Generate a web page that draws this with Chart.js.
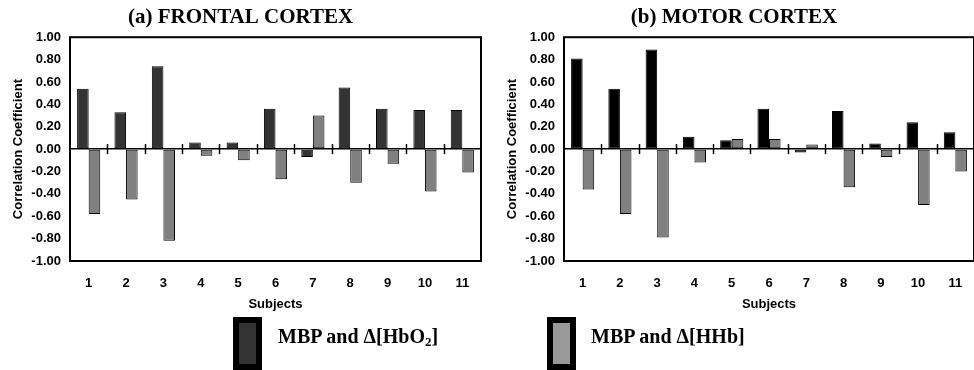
<!DOCTYPE html>
<html>
<head>
<meta charset="utf-8">
<script src="https://cdn.jsdelivr.net/npm/chart.js@4.4.1/dist/chart.umd.min.js"></script>
<style>
    html, body { margin: 0; padding: 0; background: #fff; }
    #wrap { position: relative; width: 974px; height: 370px; overflow: hidden; }
    .panel { position: absolute; top: 0; height: 320px; }
    #leftPanel { left: 0; width: 500px; }
    #rightPanel { left: 494px; width: 542px; }
    .key { position: absolute; top: 317px; width: 17px; height: 41px; border: 6px solid #000; }
    .keyText { position: absolute; top: 326px; font: bold 20px "Liberation Serif", "Times New Roman", serif; line-height: 20px; color: #000; white-space: nowrap; }
    .keyText sub { font-size: 13px; line-height: 0; vertical-align: -3px; }
</style>
</head>
<body>
<div id="wrap">
    <div class="panel" id="leftPanel"><canvas id="frontalChart"></canvas></div>
    <div class="panel" id="rightPanel"><canvas id="motorChart"></canvas></div>

    <div class="key" style="left:233px; background:#333333;"></div>
    <div class="keyText" style="left:278px;">MBP and &Delta;[HbO<sub>2</sub>]</div>
    <div class="key" style="left:547px; background:#999999;"></div>
    <div class="keyText" style="left:591px;">MBP and &Delta;[HHb]</div>
</div>

<script>
// Subjects on the x axis
const subjects = ['1', '2', '3', '4', '5', '6', '7', '8', '9', '10', '11'];

// (a) frontal cortex
const frontalHbO2 = [0.54, 0.33, 0.74, 0.06, 0.06, 0.36, -0.07, 0.55, 0.36, 0.35, 0.35];
const frontalHHb  = [-0.58, -0.45, -0.82, -0.06, -0.10, -0.27, 0.30, -0.30, -0.13, -0.38, -0.21];

// (b) motor cortex
const motorHbO2 = [0.81, 0.54, 0.89, 0.11, 0.08, 0.36, -0.03, 0.34, 0.05, 0.24, 0.15];
const motorHHb  = [-0.36, -0.58, -0.79, -0.12, 0.09, 0.09, 0.04, -0.34, -0.07, -0.50, -0.20];

// y axis range
const yMin = -1.0;
const yMax = 1.0;
const yStep = 0.2;

const sansBold = { family: "'Liberation Sans', Arial, sans-serif", size: 13, weight: 'bold' };

// Draws the box round the plot and the little ticks on the zero line
const frameAndTicks = {
    id: 'frameAndTicks',
    afterDatasetsDraw(chart) {
        const ctx = chart.ctx;
        const area = chart.chartArea;
        const x = chart.scales.x;
        const y = chart.scales.y;
        const y0 = y.getPixelForValue(0);
        ctx.save();
        ctx.strokeStyle = '#000';
        ctx.lineWidth = 1.5;
        for (let i = 1; i < subjects.length; i++) {
            const px = Math.round((x.getPixelForValue(i - 1) + x.getPixelForValue(i)) / 2) + 0.5;
            ctx.beginPath();
            ctx.moveTo(px, y0 - 5);
            ctx.lineTo(px, y0 + 5);
            ctx.stroke();
        }
        ctx.lineWidth = 2;
        ctx.strokeRect(area.left, area.top, area.width, area.height);
        ctx.restore();
    }
};

function makeChart(canvasId, title, hbo2, hhb, hbo2Color, padRight) {
    const canvas = document.getElementById(canvasId);
    return new Chart(canvas, {
        type: 'bar',
        data: {
            labels: subjects,
            datasets: [{
                label: 'MBP and \u0394[HbO2]',
                data: hbo2,
                backgroundColor: hbo2Color,
                borderColor: '#000',
                borderWidth: 1,
                borderSkipped: false,
                categoryPercentage: 0.62,
                barPercentage: 1.0
            }, {
                label: 'MBP and \u0394[HHb]',
                data: hhb,
                backgroundColor: '#808080',
                borderColor: '#000',
                borderWidth: 1,
                borderSkipped: false,
                categoryPercentage: 0.62,
                barPercentage: 1.0
            }]
        },
        options: {
            responsive: true,
            maintainAspectRatio: false,
            animation: false,
            layout: { padding: { left: 0, right: padRight, top: 0, bottom: 0 } },
            plugins: {
                legend: { display: false },
                tooltip: { enabled: false },
                title: {
                    display: true,
                    text: title,
                    color: '#000',
                    font: { family: "'Liberation Serif', 'Times New Roman', serif", size: 21, weight: 'bold' },
                    padding: { top: 5, bottom: 7 }
                }
            },
            scales: {
                x: {
                    afterFit: function(scale) { scale.height = 59; },
                    grid: { display: false, drawTicks: false },
                    border: { display: false },
                    ticks: { color: '#000', font: sansBold, padding: 15, maxRotation: 0, autoSkip: false },
                    title: {
                        display: true,
                        text: 'Subjects',
                        color: '#000',
                        font: sansBold,
                        padding: { top: 8, bottom: 8 }
                    }
                },
                y: {
                    min: yMin,
                    max: yMax,
                    afterFit: function(scale) { scale.width = 70; },
                    grid: {
                        drawTicks: false,
                        lineWidth: 1.5,
                        color: function(c) {
                            return c.tick && Math.abs(c.tick.value) < 1e-9 ? '#000' : 'rgba(0,0,0,0)';
                        }
                    },
                    border: { display: false },
                    ticks: {
                        stepSize: yStep,
                        color: '#000',
                        font: sansBold,
                        padding: 9,
                        callback: function(value) {
                            return Number(value).toFixed(2);
                        }
                    },
                    title: {
                        display: true,
                        text: 'Correlation Coefficient',
                        color: '#000',
                        font: sansBold,
                        padding: { top: 11, bottom: 0 }
                    }
                }
            }
        },
        plugins: [frameAndTicks]
    });
}

document.addEventListener('DOMContentLoaded', function() {
    makeChart('frontalChart', '(a) FRONTAL CORTEX', frontalHbO2, frontalHHb, '#333333', 19);
    makeChart('motorChart', '(b) MOTOR CORTEX', motorHbO2, motorHHb, '#000000', 62);
});
</script>
</body>
</html>
